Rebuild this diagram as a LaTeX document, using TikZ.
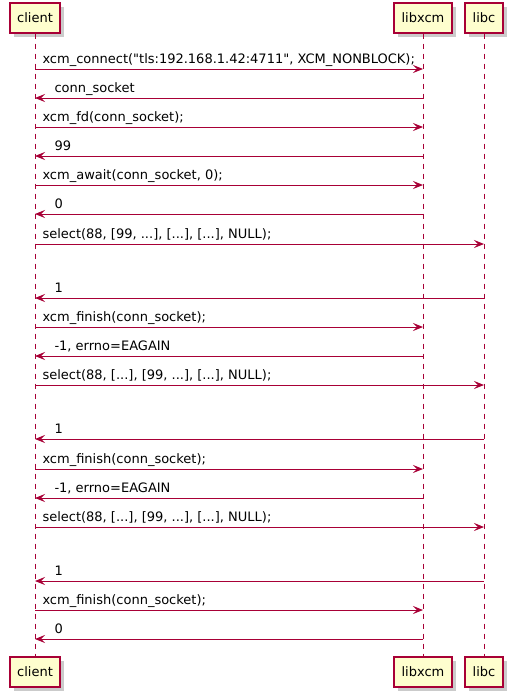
\documentclass[tikz,border=0pt]{standalone}
\usepackage{fontspec}
\setmainfont{DejaVu Sans}[Ligatures=TeXOff]
\usetikzlibrary{arrows.meta,shadows}
\definecolor{umlred}{HTML}{A80036}
\definecolor{umlfill}{HTML}{FEFECE}

\begin{document}
\begin{tikzpicture}[x=0.75pt,y=-0.75pt,
  party/.style={draw=umlred,fill=umlfill,line width=1.1pt,minimum height=22.5pt,inner sep=0pt,
    font=\fontsize{9.75}{12}\selectfont,
    drop shadow={shadow xshift=3pt,shadow yshift=-3pt,fill=black!45,opacity=.45}},
  life/.style={draw=umlred,line width=.75pt,dash pattern=on 3.75pt off 3.75pt},
  msg/.style={draw=umlred,line width=.75pt,-{Stealth[length=7.5pt,width=6pt,inset=3pt]}},
  call/.style={anchor=base west,inner sep=0pt,xshift=5.25pt,yshift=4pt,font=\fontsize{9.75}{12}\selectfont},
  back/.style={anchor=base west,inner sep=0pt,xshift=14.25pt,yshift=4pt,font=\fontsize{9.75}{12}\selectfont}]
\useasboundingbox (0,0) rectangle (511,696);

% participants, top and bottom
\node[party,minimum width=37.5pt] (cl) at (35,18) {client};
\node[party,minimum width=43.5pt] (lx) at (423,18) {libxcm};
\node[party,minimum width=28.5pt] (lc) at (484,18) {libc};
\node[party,minimum width=37.5pt] (clb) at (35,672) {client};
\node[party,minimum width=43.5pt] (lxb) at (423,672) {libxcm};
\node[party,minimum width=28.5pt] (lcb) at (484,672) {libc};

\draw[life] (cl.south) -- (clb.north);
\draw[life] (lx.south) -- (lxb.north);
\draw[life] (lc.south) -- (lcb.north);

% connect
\draw[msg] (cl |- 0,69) node[call]{xcm\_connect("tls:192.168.1.42:4711", XCM\_NONBLOCK);} -- (lx |- 0,69);
\draw[msg] (lx |- 0,98) -- (cl |- 0,98) node[back]{conn\_socket};
\draw[msg] (cl |- 0,127) node[call]{xcm\_fd(conn\_socket);} -- (lx |- 0,127);
\draw[msg] (lx |- 0,156) -- (cl |- 0,156) node[back]{99};
\draw[msg] (cl |- 0,185) node[call]{xcm\_await(conn\_socket, 0);} -- (lx |- 0,185);
\draw[msg] (lx |- 0,214) -- (cl |- 0,214) node[back]{0};

% first round
\draw[msg] (cl |- 0,244) node[call]{select(88, [99, ...], [...], [...], NULL);} -- (lc |- 0,244);
\draw[msg] (lc |- 0,298) -- (cl |- 0,298) node[back]{1};
\draw[msg] (cl |- 0,327) node[call]{xcm\_finish(conn\_socket);} -- (lx |- 0,327);
\draw[msg] (lx |- 0,356) -- (cl |- 0,356) node[back]{-1, errno=EAGAIN};

% second round
\draw[msg] (cl |- 0,385) node[call]{select(88, [...], [99, ...], [...], NULL);} -- (lc |- 0,385);
\draw[msg] (lc |- 0,439) -- (cl |- 0,439) node[back]{1};
\draw[msg] (cl |- 0,469) node[call]{xcm\_finish(conn\_socket);} -- (lx |- 0,469);
\draw[msg] (lx |- 0,498) -- (cl |- 0,498) node[back]{-1, errno=EAGAIN};

% third round
\draw[msg] (cl |- 0,527) node[call]{select(88, [...], [99, ...], [...], NULL);} -- (lc |- 0,527);
\draw[msg] (lc |- 0,581) -- (cl |- 0,581) node[back]{1};
\draw[msg] (cl |- 0,610) node[call]{xcm\_finish(conn\_socket);} -- (lx |- 0,610);
\draw[msg] (lx |- 0,639) -- (cl |- 0,639) node[back]{0};
\end{tikzpicture}
\end{document}
